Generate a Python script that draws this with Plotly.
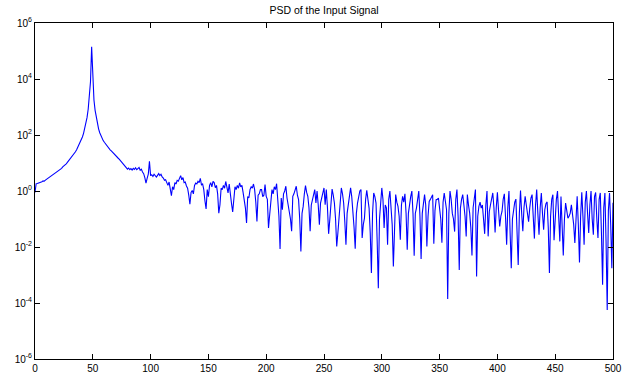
import numpy as np
import plotly.graph_objects as go

title_text = "PSD of the Input Signal"

# frequency bins (Hz), one per bin 0..500
freq_hz = list(range(0, 501))

# PSD, stored as log10(PSD) per bin
psd_log10 = [
    -0.05, 0.26, 0.27, 0.28, 0.31, 0.30, 0.33, 0.36, 0.35, 0.39,
    0.42, 0.44, 0.47, 0.49, 0.53, 0.55, 0.59, 0.61, 0.66, 0.68,
    0.72, 0.74, 0.79, 0.81, 0.86, 0.89, 0.94, 0.97, 1.02, 1.07,
    1.12, 1.16, 1.22, 1.28, 1.34, 1.40, 1.47, 1.55, 1.63, 1.72,
    1.82, 1.93, 2.06, 2.22, 2.40, 2.62, 2.92, 3.30, 3.90, 5.15,
    3.90, 3.25, 2.88, 2.60, 2.40, 2.22, 2.08, 1.97, 1.88, 1.80,
    1.74, 1.68, 1.63, 1.57, 1.52, 1.47, 1.43, 1.38, 1.35, 1.30,
    1.26, 1.22, 1.17, 1.13, 1.08, 1.02, 0.98, 0.92, 0.88, 0.83,
    0.78, 0.82, 0.76, 0.80, 0.75, 0.81, 0.77, 0.83, 0.76, 0.80,
    0.84, 0.74, 0.78, 0.68, 0.62, 0.48, 0.28, 0.45, 0.60, 1.06,
    0.55, 0.58, 0.52, 0.60, 0.55, 0.50, 0.56, 0.62, 0.55, 0.60,
    0.50, 0.46, 0.38, 0.40, 0.30, 0.20, 0.32, 0.00, -0.17, 0.15,
    0.05, 0.30, 0.25, 0.38, 0.35, 0.45, 0.55, 0.40, 0.48, 0.30,
    0.32, 0.18, 0.10, -0.15, -0.47, -0.05, 0.02, -0.10, 0.20, 0.28,
    0.25, 0.35, 0.30, 0.45, 0.22, 0.25, 0.05, -0.35, -0.64, 0.05,
    -0.20, 0.20, 0.30, 0.15, 0.34, 0.30, 0.12, 0.20, -0.10, -0.79,
    -0.49, 0.10, 0.05, 0.20, 0.10, 0.34, 0.15, -0.07, 0.25, -0.20,
    -0.45, -0.75, -0.10, 0.15, 0.05, 0.20, 0.10, 0.29, 0.15, 0.20,
    -0.05, -0.30, -0.60, -1.14, -0.20, -0.25, 0.05, 0.15, 0.10, 0.25,
    0.05, -0.40, -1.09, -0.15, -0.10, 0.05, 0.05, -0.20, -0.15, 0.23,
    -0.19, -0.30, -1.32, -0.85, -0.30, 0.05, -0.10, 0.15, 0.05, 0.26,
    -0.31, -0.90, -2.07, -0.25, -0.67, -0.10, 0.00, 0.17, -0.25, -0.50,
    -0.73, -1.00, -1.44, -0.19, -0.10, 0.05, 0.17, -0.15, -0.31, -1.00,
    -2.16, -0.80, -0.55, -0.10, 0.19, -0.05, -0.19, -0.60, -1.44, -0.50,
    -0.31, -0.10, 0.05, -0.43, 0.00, -0.50, -1.20, -0.43, -0.20, 0.00,
    0.11, -0.49, 0.05, -0.60, -1.53, -1.03, -0.30, 0.07, -0.15, -0.43,
    -1.00, -1.98, -1.50, -1.03, -0.30, 0.11, -0.10, -0.43, -1.10, -1.92,
    -0.80, -0.49, -0.10, 0.11, -0.20, -0.67, -1.30, -2.06, -0.80, -0.43,
    -0.20, 0.00, 0.05, -1.68, -1.20, -0.97, -0.30, 0.02, -0.30, -0.61,
    -1.50, -2.93, -0.80, -0.07, -0.20, -0.43, -1.80, -3.47, -1.00, -0.43,
    0.11, -0.30, -1.32, -0.50, -0.60, -1.92, -0.30, 0.00, -0.60, -1.20,
    -2.70, -0.80, -0.13, -0.40, -0.55, -0.90, -1.74, -0.50, -0.19, -0.40,
    -0.10, -0.80, -2.10, -0.80, -0.43, -0.20, 0.00, -0.80, -2.31, -0.80,
    -0.60, -0.30, 0.00, -0.90, -2.43, -0.80, -0.49, -0.13, -0.50, -1.98,
    -0.90, -0.37, -0.30, -0.20, -0.13, -1.88, -0.70, -0.31, -0.30, -0.25,
    -0.55, -1.00, -1.85, -0.40, -0.07, -0.40, -0.67, -3.86, -0.80, 0.00,
    -0.30, -0.80, -1.00, -1.45, -0.30, 0.05, -0.90, -2.82, -0.61, -0.30,
    -0.13, -0.50, -0.90, -1.62, -0.13, -0.50, -0.79, -1.30, -2.30, -0.60,
    -0.20, 0.05, -3.05, -0.90, -0.55, -0.40, -0.61, -0.50, -1.00, -1.53,
    -0.50, 0.00, -1.62, -0.73, -0.50, -0.30, -0.07, -0.60, -1.48, -0.60,
    -0.05, -0.70, -1.27, -0.90, -0.73, -0.30, -0.10, -0.90, -1.92, -0.60,
    0.00, -1.50, -2.76, -1.00, -0.61, -0.40, -0.29, -1.30, -2.64, -0.80,
    0.02, -0.80, -1.44, -0.60, -0.19, -0.50, -0.91, -1.10, -0.60, -0.25,
    -0.13, -0.90, -1.70, -0.50, 0.05, -0.80, -1.56, -0.60, -0.07, -0.80,
    -1.38, -0.67, -0.45, -0.39, -1.30, -2.93, -0.90, -0.30, -0.13, -1.76,
    -0.80, -0.30, 0.00, -0.90, -1.80, -0.20, -1.00, -2.30, -1.00, -0.43,
    -0.70, -0.97, -0.90, -0.79, -0.49, -0.80, -1.20, -1.86, -0.70, -0.19,
    -1.20, -2.55, -0.90, -0.05, -0.90, -1.92, -0.40, 0.00, -0.80, -1.50,
    -0.50, 0.00, -1.00, -1.56, -0.20, -0.05, -1.00, -1.68, -0.30, -0.07,
    -1.50, -3.35, -0.60, -0.07, -1.80, -4.25, -0.70, -0.07, -1.20, -2.76,
    -0.42,
]

x_ticks = [0, 50, 100, 150, 200, 250, 300, 350, 400, 450, 500]
y_tick_vals = [1e-6, 1e-4, 1e-2, 1e0, 1e2, 1e4, 1e6]
y_tick_text = ["10<sup>-6</sup>", "10<sup>-4</sup>", "10<sup>-2</sup>", "10<sup>0</sup>",
               "10<sup>2</sup>", "10<sup>4</sup>", "10<sup>6</sup>"]

psd = np.power(10.0, np.array(psd_log10))

fig = go.Figure()
fig.add_trace(go.Scatter(
    x=freq_hz, y=psd, mode="lines",
    line=dict(color="#0000ff", width=1.1),
    showlegend=False, hoverinfo="skip",
))

font_family = "Liberation Sans, Arial, sans-serif"

fig.update_layout(
    width=635, height=376,
    margin=dict(l=35, r=22, t=23, b=17, autoexpand=False),
    paper_bgcolor="white", plot_bgcolor="white",
    font=dict(family=font_family, size=10, color="black"),
    title=dict(text=title_text, x=(35 + 613) / 2 / 635, xanchor="center",
               y=1 - 10 / 376, yanchor="middle",
               font=dict(family=font_family, size=10.5, color="black")),
    xaxis=dict(
        range=[0, 500], tickvals=x_ticks, ticktext=[str(v) for v in x_ticks],
        ticks="inside", ticklen=5, tickcolor="black", tickwidth=1,
        showline=True, linecolor="black", linewidth=1, mirror="ticks",
        showgrid=False, zeroline=False, automargin=False,
        tickfont=dict(size=10, color="black"),
    ),
    yaxis=dict(
        type="log", range=[-6, 6], tickvals=y_tick_vals, ticktext=y_tick_text,
        ticks="inside", ticklen=5, tickcolor="black", tickwidth=1,
        showline=True, linecolor="black", linewidth=1, mirror="ticks",
        showgrid=False, zeroline=False, automargin=False,
        tickfont=dict(size=10, color="black"),
    ),
)

fig.write_html(
    "out.html",
    config={"displayModeBar": False},
    post_script="document.body.style.margin='0px';document.body.style.padding='0px';",
)
